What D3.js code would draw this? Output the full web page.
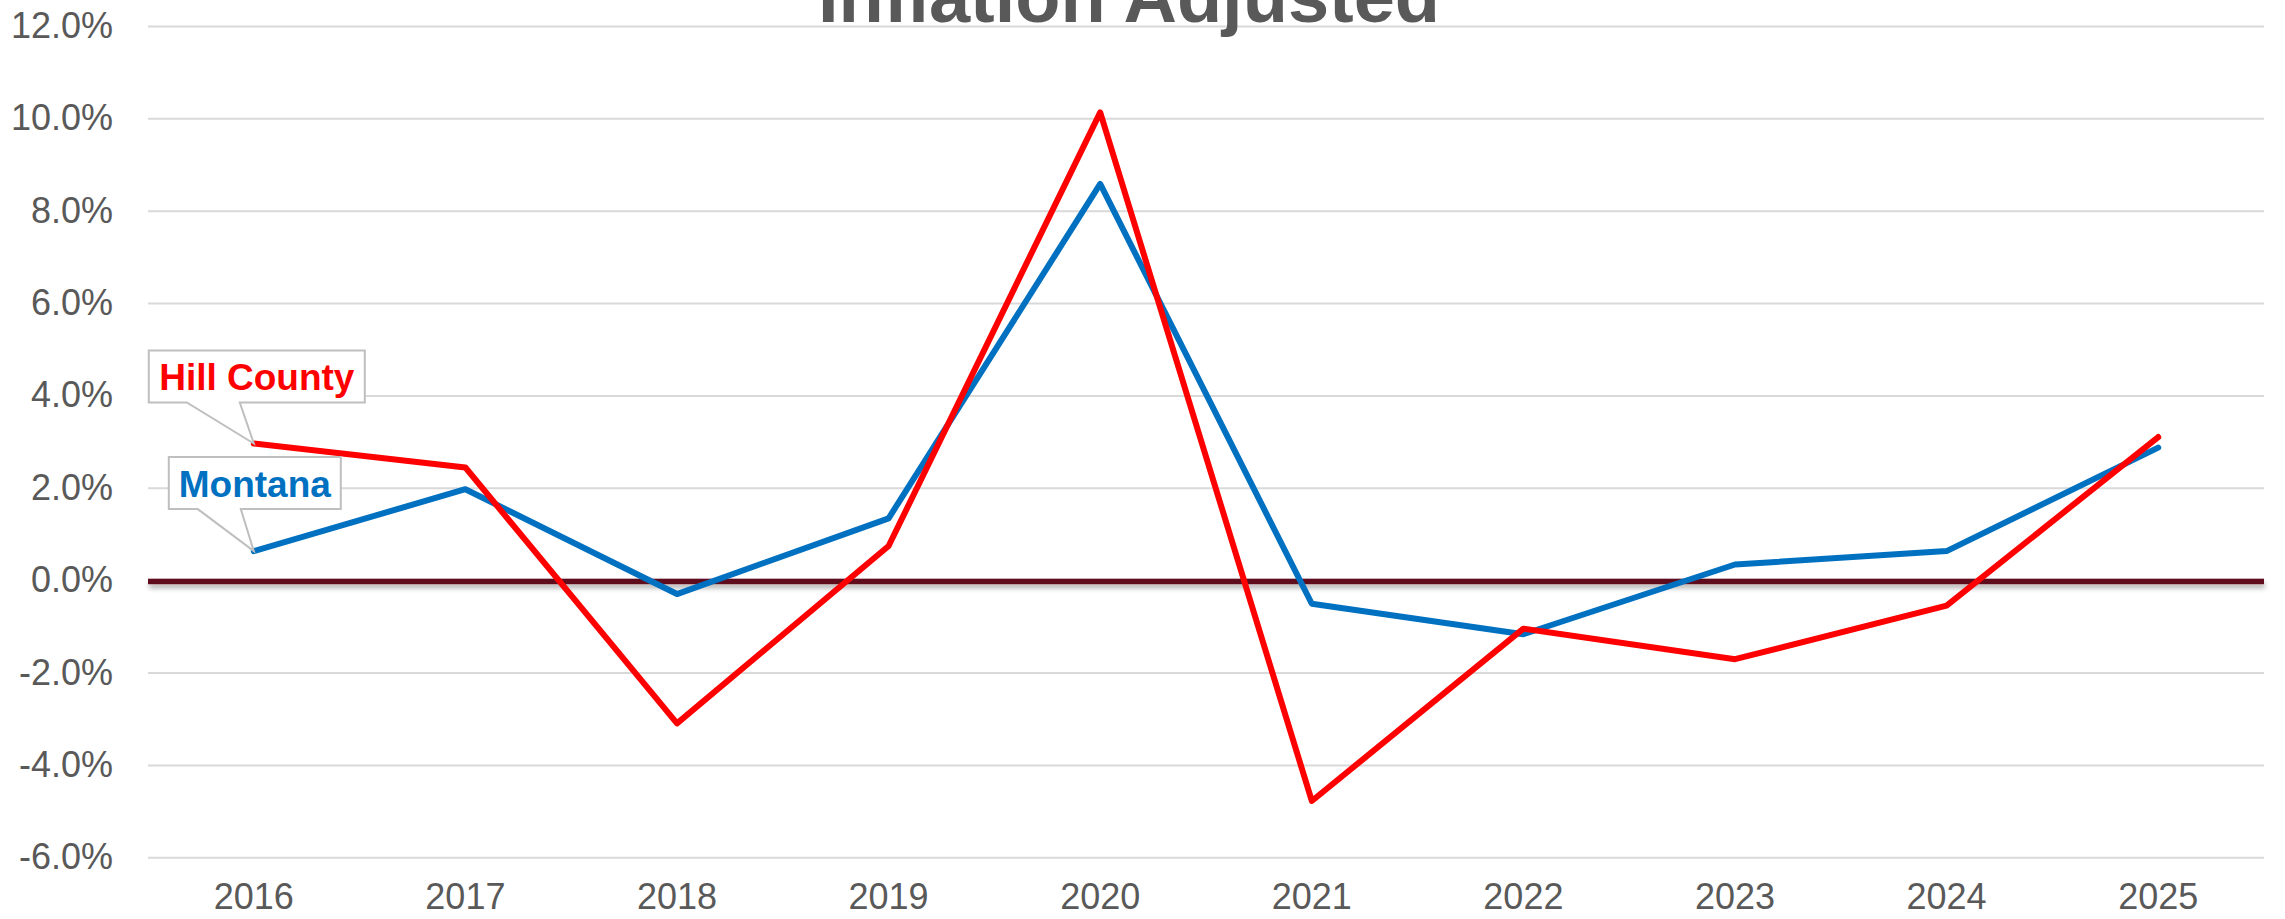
<!DOCTYPE html>
<html>
<head>
<meta charset="utf-8">
<script src="https://cdn.jsdelivr.net/npm/d3@7"></script>
<style>
  body { margin: 0; background: #fff; }
  text { font-family: "Liberation Sans", Arial, sans-serif; }
</style>
</head>
<body>
<div id="chart"></div>
<script>
// chart data
var years = ["2016", "2017", "2018", "2019", "2020", "2021", "2022", "2023", "2024", "2025"];
var hillCounty = [2.96, 2.44, -3.10, 0.74, 10.13, -4.78, -1.05, -1.71, -0.55, 3.10];
var montana = [0.63, 1.97, -0.30, 1.34, 8.58, -0.51, -1.17, 0.34, 0.63, 2.87];
var yTicks = [-6, -4, -2, 0, 2, 4, 6, 8, 10, 12];
var titleText = "Inflation Adjusted";

var width = 2285, height = 919;
var margin = {top: 26, right: 21, bottom: 61, left: 148};

var svg = d3.select("#chart")
  .append("svg")
  .attr("width", width)
  .attr("height", height);

// soft shadow under the zero line
var defs = svg.append("defs");
var shadow = defs.append("filter").attr("id", "shadow")
  .attr("filterUnits", "userSpaceOnUse")
  .attr("x", 0).attr("y", 540).attr("width", width).attr("height", 90);
shadow.append("feDropShadow")
  .attr("dx", 1).attr("dy", 4).attr("stdDeviation", 2.5)
  .attr("flood-color", "#000").attr("flood-opacity", 0.3);

var x = d3.scaleBand()
  .domain(years)
  .range([margin.left, width - margin.right]);

var y = d3.scaleLinear()
  .domain([-6, 12])
  .range([height - margin.bottom - 0.7, margin.top]);

// gridlines
svg.append("g")
  .attr("class", "grid")
  .attr("transform", "translate(" + margin.left + ",0)")
  .call(d3.axisLeft(y).tickValues(yTicks).tickSize(-(width - margin.right - margin.left)).tickFormat(""))
  .call(function(g) { g.select(".domain").remove(); })
  .selectAll("line")
  .attr("stroke", "#d9d9d9")
  .attr("stroke-width", 2);

// y axis labels
svg.append("g")
  .attr("transform", "translate(" + (margin.left - 35) + ",0)")
  .call(d3.axisLeft(y).tickValues(yTicks).tickSize(0).tickPadding(0)
    .tickFormat(function(d) { return d.toFixed(1) + "%"; }))
  .call(function(g) { g.select(".domain").remove(); })
  .selectAll("text")
  .attr("fill", "#595959")
  .style("font-size", "36px")
  .style("font-family", "'Liberation Sans', Arial, sans-serif");

// x axis labels
svg.append("g")
  .attr("transform", "translate(0," + (height - 36) + ")")
  .call(d3.axisBottom(x).tickSize(0).tickPadding(0))
  .call(function(g) { g.select(".domain").remove(); })
  .selectAll("text")
  .attr("fill", "#595959")
  .attr("dy", "0.71em")
  .style("font-size", "36px")
  .style("font-family", "'Liberation Sans', Arial, sans-serif");

// zero line
svg.append("rect")
  .attr("x", margin.left)
  .attr("width", width - margin.right - margin.left)
  .attr("y", y(0) - 1.5)
  .attr("height", 5.5)
  .attr("fill", "#5e0a1d")
  .attr("filter", "url(#shadow)");

var line = d3.line()
  .x(function(d, i) { return x(years[i]) + x.bandwidth() / 2; })
  .y(function(d) { return y(d); });

svg.append("path")
  .datum(montana)
  .attr("d", line)
  .attr("fill", "none")
  .attr("stroke", "#0070c0")
  .attr("stroke-width", 6)
  .attr("stroke-linejoin", "round")
  .attr("stroke-linecap", "round");

svg.append("path")
  .datum(hillCounty)
  .attr("d", line)
  .attr("fill", "none")
  .attr("stroke", "#ff0000")
  .attr("stroke-width", 6)
  .attr("stroke-linejoin", "round")
  .attr("stroke-linecap", "round");

// callout labels pointing at the first point of each series
function callout(label, value, color, box) {
  var px = x(years[0]) + x.bandwidth() / 2, py = y(value);
  var l = px + box.left, r = px + box.right, t = py + box.top, b = py + box.bottom;
  var pts = [[px + box.n1, b], [l, b], [l, t], [r, t], [r, b], [px + box.n2, b], [px, py]];
  svg.append("path")
    .attr("d", d3.line()(pts) + "Z")
    .attr("fill", "#fff")
    .attr("stroke", "#bfbfbf")
    .attr("stroke-width", 2);
  svg.append("text")
    .attr("x", (l + r) / 2)
    .attr("y", b - 12)
    .attr("text-anchor", "middle")
    .attr("fill", color)
    .style("font-size", "37px")
    .style("font-weight", "bold")
    .text(label);
}
callout("Hill County", hillCounty[0], "#ff0000", {left: -105, right: 111, top: -93, bottom: -41, n1: -67, n2: -14});
callout("Montana", montana[0], "#0070c0", {left: -85, right: 87, top: -94, bottom: -42, n1: -56, n2: -13});

// title (top part falls outside the picture, as in the original)
svg.append("text")
  .attr("x", 1129)
  .attr("y", 22)
  .attr("text-anchor", "middle")
  .attr("fill", "#595959")
  .style("font-size", "74px")
  .style("font-weight", "bold")
  .text(titleText);
</script>
</body>
</html>
